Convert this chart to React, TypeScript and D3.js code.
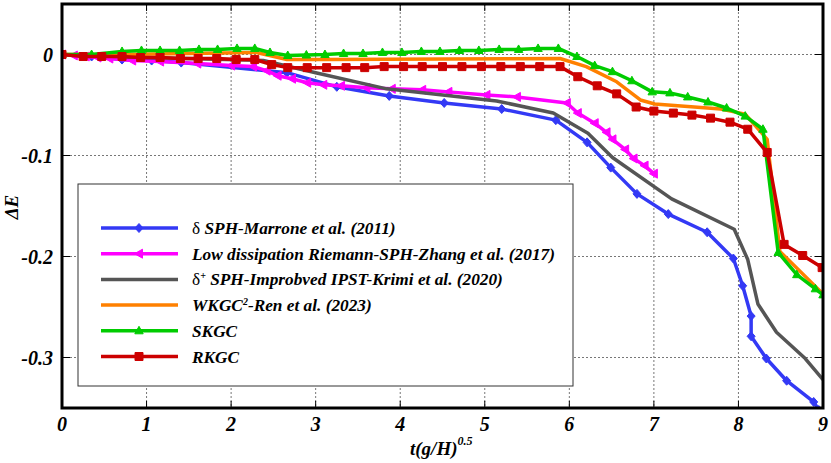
import * as d3 from "d3";

type Pt = [number, number];

// t(g/H)^0.5 vs ΔE
const marrone: Pt[] = [
  [0, 0], [0.35, -0.002], [0.71, -0.005], [1.06, -0.006], [1.41, -0.008], [2.66, -0.018],
  [3.25, -0.032], [3.87, -0.041], [4.52, -0.048], [5.2, -0.054], [5.84, -0.065],
  [6.21, -0.087], [6.49, -0.112], [6.8, -0.138], [7.17, -0.158], [7.63, -0.176],
  [7.94, -0.202], [8.05, -0.229], [8.15, -0.259], [8.15, -0.279], [8.33, -0.301],
  [8.57, -0.323], [8.89, -0.344], [8.95, -0.352],
];
const zhang: Pt[] = [
  [0, 0], [0.14, -0.001], [0.28, -0.002], [0.42, -0.003], [0.56, -0.004], [0.83, -0.006],
  [1.16, -0.007], [1.6, -0.009], [2.0, -0.011], [2.26, -0.012], [2.42, -0.016],
  [2.55, -0.021], [2.72, -0.024], [2.9, -0.028], [3.09, -0.030], [3.3, -0.031],
  [3.6, -0.033], [3.9, -0.034], [4.26, -0.035], [4.57, -0.037], [5.02, -0.040],
  [5.38, -0.042], [5.97, -0.048], [6.1, -0.058], [6.3, -0.068], [6.44, -0.077],
  [6.51, -0.084], [6.66, -0.094], [6.76, -0.103], [6.89, -0.110], [7.0, -0.118],
];
const krimi: Pt[] = [
  [0, 0], [1.0, -0.003], [2.38, -0.006], [3.0, -0.018], [3.84, -0.034], [5.14, -0.046],
  [5.81, -0.058], [6.22, -0.078], [6.51, -0.102], [7.21, -0.143], [7.95, -0.173],
  [8.11, -0.203], [8.23, -0.247], [8.45, -0.275], [8.79, -0.301], [9.0, -0.322],
];
const ren: Pt[] = [
  [0, 0], [0.7, 0.0], [2.3, 0.002], [2.66, -0.005], [3.1, -0.005], [5.89, -0.004],
  [6.2, -0.012], [6.56, -0.027], [6.84, -0.045], [7.01, -0.049], [7.79, -0.054],
  [8.08, -0.059], [8.34, -0.084], [8.49, -0.195], [9.0, -0.237],
];
const skgc: Pt[] = [
  [0, 0], [0.35, 0.0], [0.71, 0.003], [0.94, 0.004], [1.16, 0.004], [1.39, 0.004],
  [1.62, 0.005], [1.84, 0.005], [2.07, 0.006], [2.28, 0.006], [2.46, 0.002],
  [2.67, -0.001], [2.89, -0.0005], [3.11, 0.0], [3.33, 0.001], [3.56, 0.001],
  [3.79, 0.002], [4.02, 0.002], [4.25, 0.003], [4.47, 0.003], [4.7, 0.004],
  [4.93, 0.004], [5.17, 0.005], [5.4, 0.005], [5.63, 0.006], [5.87, 0.006],
  [6.09, -0.002], [6.3, -0.011], [6.51, -0.017], [6.74, -0.026], [6.98, -0.037],
  [7.19, -0.038], [7.4, -0.042], [7.64, -0.047], [7.86, -0.053], [8.08, -0.061],
  [8.29, -0.074], [8.47, -0.196], [8.69, -0.218], [8.91, -0.232], [9.0, -0.238],
];
const rkgc: Pt[] = [
  [0, 0], [0.25, -0.002], [0.47, -0.002], [0.71, -0.002], [0.93, -0.003], [1.16, -0.003],
  [1.4, -0.004], [1.61, -0.004], [1.83, -0.004], [2.06, -0.005], [2.28, -0.005],
  [2.48, -0.010], [2.67, -0.013], [2.9, -0.013], [3.13, -0.013], [3.36, -0.013],
  [3.58, -0.013], [3.81, -0.012], [4.04, -0.012], [4.26, -0.012], [4.5, -0.012],
  [4.73, -0.012], [4.96, -0.012], [5.19, -0.012], [5.42, -0.012], [5.65, -0.012],
  [5.89, -0.012], [6.1, -0.022], [6.33, -0.031], [6.56, -0.039], [6.79, -0.052],
  [7.0, -0.056], [7.23, -0.058], [7.45, -0.060], [7.67, -0.063], [7.9, -0.067],
  [8.11, -0.074], [8.34, -0.097], [8.54, -0.188], [8.76, -0.199], [8.99, -0.211],
];

const xTicks = [0, 1, 2, 3, 4, 5, 6, 7, 8, 9];
const yTicks = [0, -0.1, -0.2, -0.3];

type Marker = "diamond" | "left" | "up" | "square" | "none";

const series: { key: string; data: Pt[]; color: string; width: number; marker: Marker }[] = [
  { key: "marrone", data: marrone, color: "#3339f5", width: 3.5, marker: "diamond" },
  { key: "zhang", data: zhang, color: "#ff00ff", width: 3.5, marker: "left" },
  { key: "krimi", data: krimi, color: "#555555", width: 3.5, marker: "none" },
  { key: "ren", data: ren, color: "#ff8000", width: 3.5, marker: "none" },
  { key: "skgc", data: skgc, color: "#00cc00", width: 3.5, marker: "up" },
  { key: "rkgc", data: rkgc, color: "#cc0000", width: 3.5, marker: "square" },
];

const W = 831;
const H = 463;
const M = { left: 62, right: 823, top: 4, bottom: 408 };
const FONT = "'Liberation Serif', 'Times New Roman', serif";

function markerPath(m: Marker): string {
  switch (m) {
    case "diamond":
      return "M0,-4.5L4,0L0,4.5L-4,0Z";
    case "left":
      return "M-4.5,0L3.5,-4.5L3.5,4.5Z";
    case "up":
      return "M0,-4.5L4.2,3L-4.2,3Z";
    case "square":
      return "M-4,-4H4V4H-4Z";
    default:
      return "";
  }
}

export default function App() {
  const x = d3.scaleLinear().domain([0, 9]).range([M.left, M.right]);
  const y = d3.scaleLinear().domain([0.05, -0.35]).range([M.top, M.bottom]);
  const line = d3
    .line<Pt>()
    .x((d) => x(d[0]))
    .y((d) => y(d[1]));

  const legendRows = [
    { s: series[0], label: <><tspan fontStyle="normal" fontWeight="normal">δ </tspan>SPH-Marrone et al. (2011)</> },
    { s: series[1], label: <>Low dissipation Riemann-SPH-Zhang et al. (2017)</> },
    {
      s: series[2],
      label: (
        <>
          <tspan fontStyle="normal" fontWeight="normal">δ</tspan>
          <tspan dy={-6} fontSize={10}>+</tspan>
          <tspan dy={6}> SPH-Improbved IPST-Krimi et al. (2020)</tspan>
        </>
      ),
    },
    {
      s: series[3],
      label: (
        <>
          WKGC<tspan dy={-6} fontSize={10}>2</tspan>
          <tspan dy={6}>-Ren et al. (2023)</tspan>
        </>
      ),
    },
    { s: series[4], label: <>SKGC</> },
    { s: series[5], label: <>RKGC</> },
  ];

  return (
    <svg width={W} height={H} style={{ position: "absolute", left: 0, top: 0, background: "#fff" }}>
      <defs>
        <clipPath id="plot">
          <rect x={M.left} y={M.top} width={M.right - M.left} height={M.bottom - M.top} />
        </clipPath>
      </defs>

      {/* grid */}
      <g stroke="#777" strokeWidth={1} strokeDasharray="2,2">
        {xTicks.slice(1, -1).map((t) => (
          <line key={`gx${t}`} x1={x(t)} x2={x(t)} y1={M.top} y2={M.bottom} />
        ))}
        {yTicks.map((t) => (
          <line key={`gy${t}`} x1={M.left} x2={M.right} y1={y(t)} y2={y(t)} />
        ))}
      </g>
      {/* ticks */}
      <g stroke="#000" strokeWidth={1}>
        {xTicks.map((t) => (
          <g key={`tx${t}`}>
            <line x1={x(t)} x2={x(t)} y1={M.bottom} y2={M.bottom - 7} />
            <line x1={x(t)} x2={x(t)} y1={M.top} y2={M.top + 7} />
          </g>
        ))}
        {yTicks.map((t) => (
          <g key={`ty${t}`}>
            <line x1={M.left} x2={M.left + 8} y1={y(t)} y2={y(t)} />
            <line x1={M.right} x2={M.right - 8} y1={y(t)} y2={y(t)} />
          </g>
        ))}
      </g>

      {/* series */}
      <g clipPath="url(#plot)">
        {series.map((s) => (
          <g key={s.key}>
            <path d={line(s.data) ?? ""} fill="none" stroke={s.color} strokeWidth={s.width} strokeLinejoin="round" />
            {s.marker !== "none" &&
              s.data.map((d, i) => (
                <path
                  key={i}
                  d={markerPath(s.marker)}
                  transform={`translate(${x(d[0])},${y(d[1])})`}
                  fill={s.color}
                  stroke={s.color}
                  strokeWidth={1}
                />
              ))}
          </g>
        ))}
      </g>

      {/* legend */}
      <rect x={78} y={184} width={495} height={202} fill="#fff" stroke="#333" strokeWidth={1} />
      {legendRows.map((r, i) => {
        const yy = 228 + i * 25.7;
        return (
          <g key={r.s.key}>
            <line x1={101} x2={178} y1={yy} y2={yy} stroke={r.s.color} strokeWidth={3.5} />
            {r.s.marker !== "none" && (
              <path
                d={markerPath(r.s.marker)}
                transform={`translate(139,${yy})`}
                fill={r.s.color}
                stroke={r.s.color}
              />
            )}
            <text
              x={192}
              y={yy + 6}
              fontFamily={FONT}
              fontStyle="italic"
              fontWeight="bold"
              fontSize={17.3}
              fill="#000"
            >
              {r.label}
            </text>
          </g>
        );
      })}

      {/* frame */}
      <rect
        x={M.left}
        y={M.top}
        width={M.right - M.left}
        height={M.bottom - M.top}
        fill="none"
        stroke="#000"
        strokeWidth={3}
      />

      {/* tick labels */}
      <g fontFamily={FONT} fontStyle="italic" fontWeight="bold" fontSize={20} fill="#000">
        {xTicks.map((t) => (
          <text key={`lx${t}`} x={x(t)} y={431} textAnchor="middle">
            {t}
          </text>
        ))}
        {yTicks.map((t) => (
          <text key={`ly${t}`} x={53} y={y(t) + 7} textAnchor="end">
            {t === 0 ? "0" : t.toFixed(1)}
          </text>
        ))}
      </g>

      {/* axis titles */}
      <text x={410} y={455} fontFamily={FONT} fontStyle="italic" fontWeight="bold" fontSize={19}>
        t(g/H)<tspan dy={-10} fontSize={12}>0.5</tspan>
      </text>
      <text
        transform="translate(18,207) rotate(-90)"
        textAnchor="middle"
        fontFamily={FONT}
        fontStyle="italic"
        fontWeight="bold"
        fontSize={19}
      >
        ΔE
      </text>
    </svg>
  );
}
